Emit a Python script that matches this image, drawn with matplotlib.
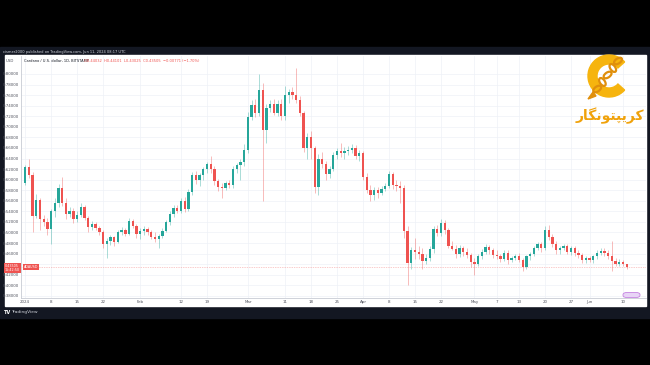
import numpy as np
import pandas as pd
import matplotlib
matplotlib.use("Agg")
import matplotlib.pyplot as plt
from matplotlib.patches import Rectangle, FancyBboxPatch, Wedge, Ellipse, Polygon

# ADA/USD daily candles, Jan 1 - Jun 11 2024
dates = pd.date_range("2024-01-01", "2024-06-11", freq="D")

opens = [
    .594, .624, .609, .532, .562, .525, .520, .506, .540, .556, .585, .556, .535, .541, .525, .534,
    .548, .528, .510, .516, .508, .500, .478, .484, .491, .482, .500, .505, .498, .522, .512,
    .497, .502, .506, .500, .492, .488, .494, .503, .520, .535, .546, .540, .560, .545, .577,
    .609, .600, .608, .620, .629, .620, .598, .586, .584, .594, .589, .620, .628, .634,
    .656, .719, .741, .726, .770, .694, .736, .744, .726, .744, .720, .760, .766, .760, .751, .726,
    .660, .680, .660, .586, .640, .630, .611, .620, .646, .654, .650, .654, .656, .660, .645,
    .650, .605, .580, .570, .580, .574, .582, .588, .610, .590, .588, .584, .503, .442, .467,
    .463, .459, .446, .452, .469, .507, .499, .518, .505, .474, .469, .459, .470, .463, .458,
    .445, .440, .455, .464, .472, .466, .458, .455, .450, .462, .448, .452, .456, .448, .435, .455,
    .460, .470, .478, .470, .505, .492, .478, .466, .470, .474, .464, .470, .462, .457, .447,
    .451, .448, .455, .462, .465, .462, .455, .446, .441, .444, .44032,
]
highs = [
    .628, .640, .615, .572, .566, .534, .528, .545, .566, .592, .605, .566, .548, .546, .540, .556,
    .552, .532, .522, .520, .512, .504, .490, .496, .494, .504, .510, .508, .528, .526, .516,
    .508, .512, .510, .504, .500, .498, .508, .524, .540, .552, .552, .566, .568, .582, .615,
    .616, .612, .624, .634, .645, .626, .602, .594, .598, .600, .626, .632, .640, .668,
    .728, .750, .752, .800, .782, .744, .750, .752, .750, .752, .778, .772, .776, .811, .758, .730,
    .688, .692, .664, .648, .652, .636, .626, .652, .660, .670, .662, .664, .668, .666, .656,
    .654, .612, .590, .586, .586, .588, .594, .616, .614, .600, .598, .590, .512, .472, .490,
    .474, .470, .460, .474, .512, .514, .525, .524, .508, .484, .476, .476, .474, .470, .462,
    .452, .460, .468, .478, .476, .470, .466, .460, .466, .466, .456, .460, .462, .452, .458, .464,
    .474, .482, .482, .512, .515, .498, .484, .474, .478, .478, .474, .474, .466, .462, .455,
    .456, .458, .466, .470, .470, .466, .484, .452, .450, .448, .44101,
]
lows = [
    .590, .603, .500, .528, .505, .512, .495, .478, .530, .548, .550, .526, .530, .518, .520, .530,
    .524, .500, .505, .504, .495, .470, .452, .476, .475, .480, .496, .494, .496, .508, .490,
    .488, .496, .496, .488, .482, .470, .490, .500, .515, .530, .536, .536, .538, .540, .570,
    .592, .588, .600, .612, .612, .590, .578, .566, .580, .584, .585, .612, .600, .626,
    .650, .712, .718, .720, .560, .670, .728, .722, .720, .712, .712, .745, .752, .745, .720, .652,
    .640, .640, .575, .570, .622, .600, .604, .616, .640, .642, .640, .646, .650, .640, .636,
    .600, .574, .560, .562, .566, .570, .578, .584, .582, .578, .556, .490, .400, .430, .450,
    .450, .430, .440, .446, .462, .494, .494, .498, .470, .466, .452, .454, .456, .452, .435,
    .420, .436, .450, .460, .460, .452, .450, .444, .446, .440, .444, .448, .444, .428, .430, .448,
    .456, .466, .464, .466, .486, .472, .460, .460, .466, .460, .458, .456, .452, .442, .442,
    .444, .443, .450, .458, .456, .450, .428, .436, .436, .436, .43025,
]
closes = [
    .624, .609, .532, .562, .525, .520, .506, .540, .556, .585, .556, .535, .541, .525, .534, .548,
    .528, .510, .516, .508, .500, .478, .484, .491, .482, .500, .505, .498, .522, .512, .497,
    .502, .506, .500, .492, .488, .494, .503, .520, .535, .546, .540, .560, .545, .577, .609,
    .600, .608, .620, .629, .620, .598, .586, .584, .594, .589, .620, .628, .634, .656,
    .719, .741, .726, .770, .694, .736, .744, .726, .744, .720, .760, .766, .760, .751, .726, .660,
    .680, .660, .586, .640, .630, .611, .620, .646, .654, .650, .654, .656, .660, .645, .650,
    .605, .580, .570, .580, .574, .582, .588, .610, .590, .588, .584, .503, .442, .467, .463,
    .459, .446, .452, .469, .507, .499, .518, .505, .474, .469, .459, .470, .463, .458, .445,
    .440, .455, .464, .472, .466, .458, .455, .450, .462, .448, .452, .456, .448, .435, .455, .460,
    .470, .478, .470, .505, .492, .478, .466, .470, .474, .464, .470, .462, .457, .447, .451,
    .448, .455, .462, .465, .462, .455, .446, .441, .444, .44032, .43505,
]

last_close = 0.43505
price_ticks = [0.38, 0.40, 0.42, 0.44, 0.46, 0.48, 0.50, 0.52, 0.54, 0.56, 0.58,
               0.60, 0.62, 0.64, 0.66, 0.68, 0.70, 0.72, 0.74, 0.76, 0.78, 0.80]
date_ticks = ["2024-01-01", "2024-01-08", "2024-01-15", "2024-01-22", "2024-02-01", "2024-02-12",
              "2024-02-19", "2024-03-01", "2024-03-11", "2024-03-18", "2024-03-25", "2024-04-01",
              "2024-04-08", "2024-04-15", "2024-04-22", "2024-05-01", "2024-05-07", "2024-05-13",
              "2024-05-20", "2024-05-27", "2024-06-01", "2024-06-10"]
date_labels = ["2024", "8", "15", "22", "Feb", "12", "19", "Mar", "11", "18", "25", "Apr",
               "8", "15", "22", "May", "7", "13", "20", "27", "Jun", "10"]

W, H = 650, 365
UP, DOWN = "#26a69a", "#ef5350"
DARK = "#131722"


def fy(py):
    return 1 - py / H


fig = plt.figure(figsize=(6.5, 3.65), dpi=100, facecolor="black")
fig.patches.append(Rectangle((0, fy(318)), 1, (318 - 47) / H, transform=fig.transFigure,
                             color=DARK, zorder=-10))
fig.patches.append(Rectangle((5 / W, fy(306)), (646 - 5) / W, (306 - 55) / H,
                             transform=fig.transFigure, color="white", zorder=-9))

ax = fig.add_axes([21 / W, fy(298), (646 - 21) / W, (298 - 56) / H])
ax.set_facecolor("white")

x = np.array((dates - dates[0]).days)
o = np.array(opens)
c = np.array(closes)
hi = np.array(highs)
lo = np.array(lows)
up = c >= o
cols = np.where(up, UP, DOWN)

ax.vlines(x, lo, hi, colors=cols, linewidth=0.6, alpha=0.45, zorder=2)
body = np.maximum(np.abs(c - o), 0.0015)
ax.bar(x, body, bottom=np.minimum(o, c), width=0.62, color=cols, linewidth=0, zorder=3)

ax.axhline(last_close, color=DOWN, lw=0.5, ls=(0, (1, 1.5)), alpha=0.6, zorder=1)

ax.set_xlim(-1.1, 167.2)
ax.set_ylim(0.376, 0.834)
ax.set_yticks(price_ticks)
# the last-price badge hides the scale label next to it, as on the original
ax.set_yticklabels(["" if abs(v - last_close) < 0.01 else f"{v:.5f}" for v in price_ticks])
tick_x = [(pd.Timestamp(d) - dates[0]).days for d in date_ticks]
ax.set_xticks(tick_x)
ax.set_xticklabels(date_labels)
ax.tick_params(length=0, labelsize=2.9, colors="#50535e", pad=1.5)
ax.grid(True, color="#eef1f7", lw=0.5)
ax.set_axisbelow(True)
for s in ["top", "right"]:
    ax.spines[s].set_visible(False)
for s in ["left", "bottom"]:
    ax.spines[s].set_color("#c8cbd3")
    ax.spines[s].set_linewidth(0.6)

# header / legend texts
fig.text(3 / W, fy(51.5), "cismer2000 published on TradingView.com, Jun 11, 2024 08:17 UTC",
         color="#d1d4dc", fontsize=2.6, va="center")
fig.text(6 / W, fy(60.5), "USD", color="#50535e", fontsize=2.8, va="center")
fig.text(24 / W, fy(60.7), "Cardano / U.S. dollar, 1D, BITSTAMP", color="#131722",
         fontsize=2.6, va="center")
fig.text(84 / W, fy(60.7), "O0.44032  H0.44101  L0.43025  C0.43505  \u22120.00771 (\u22121.70%)",
         color=DOWN, fontsize=2.6, va="center")

# last price labels
fig.text(12 / W, fy(268), "0.43505\n15:42:50", color="white", fontsize=2.4, ha="center",
         va="center", linespacing=1.1,
         bbox=dict(boxstyle="square,pad=0.3", fc=DOWN, ec="none"))
fig.text(31 / W, fy(266.5), "ADAUSD", color="white", fontsize=2.4, ha="center", va="center",
         bbox=dict(boxstyle="square,pad=0.3", fc=DOWN, ec="none"))

# footer
fig.text(4 / W, fy(312), "TV", color="white", fontsize=3.6, fontweight="bold", va="center")
fig.text(11 / W, fy(312), "TradingView", color="#d1d4dc", fontsize=3.2, va="center")

# small events pill bottom right
fig.patches.append(FancyBboxPatch((623 / W, fy(297.5)), 17 / W, 5 / H,
                                  boxstyle="round,pad=0,rounding_size=0.006",
                                  transform=fig.transFigure, fc="#e8d4f6", ec="#c583e0",
                                  lw=0.6, zorder=5))

# watermark logo
lg = fig.add_axes([585 / W, fy(100), 46 / W, 48 / H])
lg.set_xlim(0, 46)
lg.set_ylim(0, 48)
lg.axis("off")
lg.add_patch(Wedge((24, 24), 21, 42, 318, width=9, color="#f6b40e"))
for i in range(5):
    cx = 33 - i * 5.2
    cy = 39 - i * 7.0
    lg.add_patch(Ellipse((cx, cy), 9, 5, angle=-55 if i % 2 else 35, fill=False,
                         ec="#e08f0c", lw=1.6))
lg.add_patch(Polygon([[8, 8], [3, 1], [11, 4]], color="#e08f0c"))
fig.text(610 / W, fy(116), "\uFEAD\uFE8E\uFB95\uFEE7\uFEEE\uFE98\uFB59\uFBFE\uFEAE\uFB90",
         color="#f0a20b", fontsize=10, fontweight="bold", ha="center", va="center",
         family="DejaVu Sans")

fig.savefig("out.png", dpi=100, facecolor=fig.get_facecolor())
